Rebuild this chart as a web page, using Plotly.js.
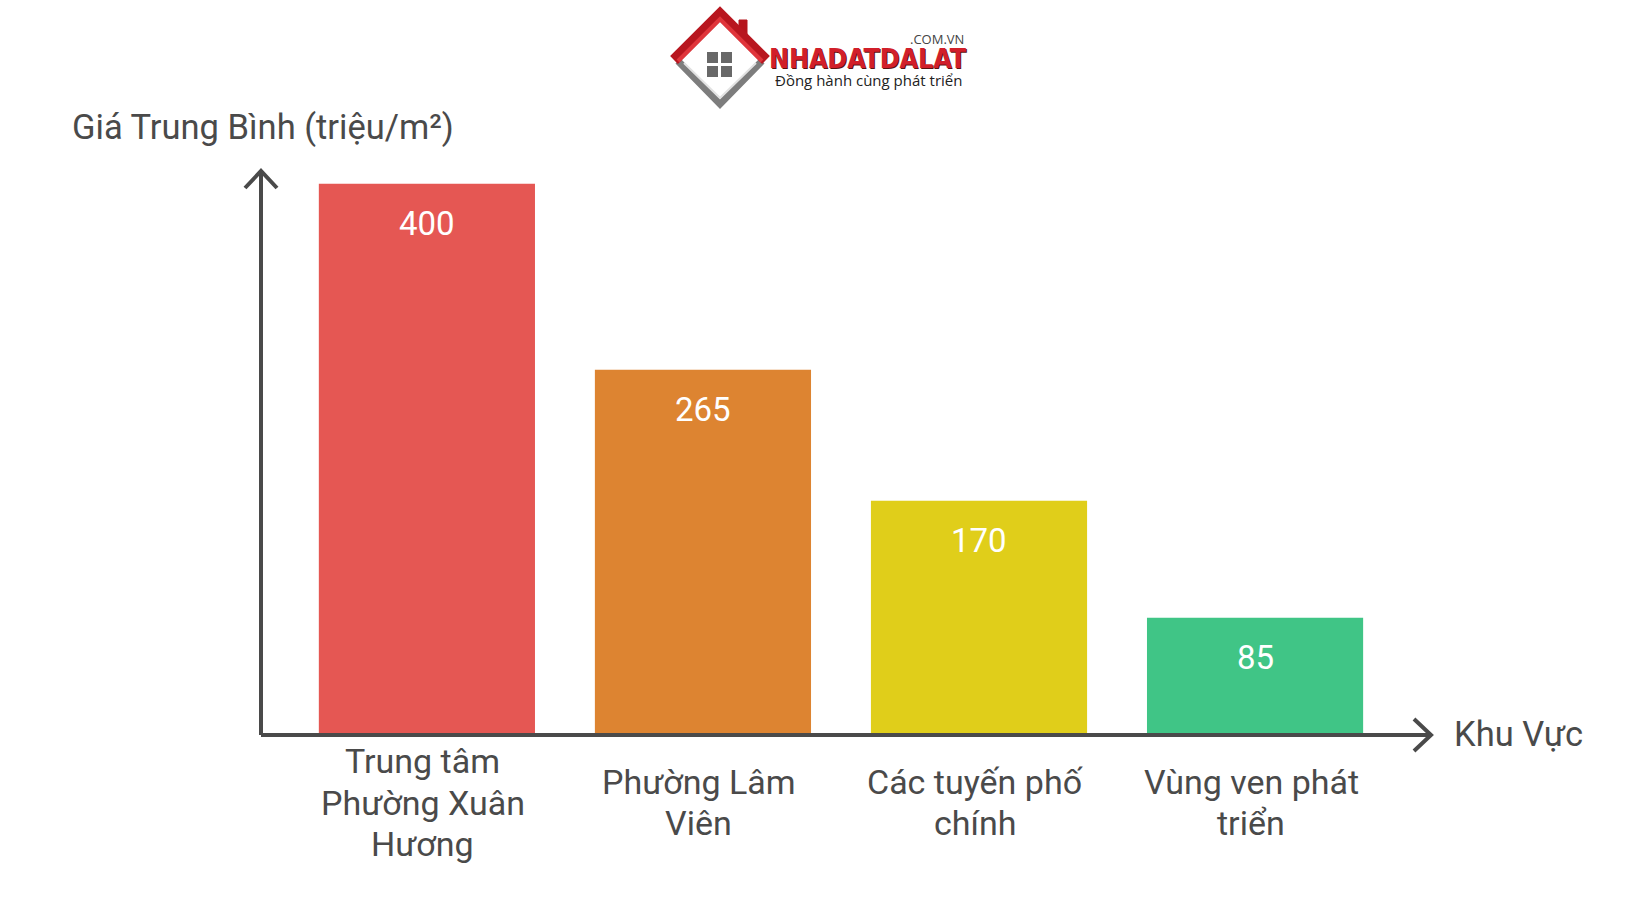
<!DOCTYPE html>
<html>
<head>
<meta charset="utf-8">
<script src="https://cdn.plot.ly/plotly-3.0.1.min.js"></script>
<style>html,body{margin:0;padding:0;background:#fff;}#chart{width:1640px;height:924px;}</style>
</head>
<body>
<div id="chart"></div>
<script>
// ---- data ----
const categories = ['Trung tâm Phường Xuân Hương', 'Phường Lâm Viên', 'Các tuyến phố chính', 'Vùng ven phát triển'];
const tickLabels = ['Trung tâm<br>Phường Xuân<br>Hương', 'Phường Lâm<br>Viên', 'Các tuyến phố<br>chính', 'Vùng ven phát<br>triển'];
const values = [400, 265, 170, 85];
const barColors = ['#E55753', '#DD8431', '#E0CE1A', '#40C586'];
const yTitle = 'Giá Trung Bình (triệu/m²)';
const xTitle = 'Khu Vực';

// ---- layout geometry (pixels) ----
const W = 1640, H = 924;
const L = 261, R = 1432, T = 170, B = 735;
const px = x => (x - L) / (R - L);
const py = y => (B - y) / (B - T);
const axisColor = '#4a4a4a';
const textColor = '#4a4a4a';
const font = 'Roboto, "Open Sans", sans-serif';
const lineGap = 41.3;

const trace = {
  type: 'bar',
  x: categories,
  y: values,
  marker: {color: barColors, line: {width: 0}},
  hoverinfo: 'x+y',
  showlegend: false
};

const annotations = [];
categories.forEach((c, i) => {
  annotations.push({
    x: c, y: values[i], xref: 'x', yref: 'y',
    text: String(values[i]), showarrow: false,
    yanchor: 'middle', xanchor: 'center', yshift: -40,
    font: {family: font, size: 33, color: '#ffffff'}
  });
  const lines = tickLabels[i].split('<br>');
  const n = lines.length;
  lines.forEach((ln, k) => {
    annotations.push({
      x: c, y: 0, xref: 'x', yref: 'paper',
      text: ln, showarrow: false,
      yanchor: 'middle', xanchor: 'center', xshift: -4,
      yshift: -67.5 - (k - (n - 1) / 2) * lineGap,
      font: {family: font, size: 34, color: textColor}
    });
  });
});
annotations.push({
  x: px(70), y: py(128), xref: 'paper', yref: 'paper', xanchor: 'left', yanchor: 'middle',
  text: yTitle, showarrow: false, font: {family: font, size: 34.5, color: textColor}
});
annotations.push({
  x: px(1452), y: py(734), xref: 'paper', yref: 'paper', xanchor: 'left', yanchor: 'middle',
  text: xTitle, showarrow: false, font: {family: font, size: 34.5, color: textColor}
});
// logo texts
annotations.push({
  x: px(767), y: py(59), xref: 'paper', yref: 'paper', xanchor: 'left', yanchor: 'middle',
  text: '<b>NHADATDALAT</b>', showarrow: false,
  font: {family: '"DejaVu Sans Condensed", "DejaVu Sans", sans-serif', size: 26.5, color: '#D11F2A',
         shadow: '1px 1px 0px #5a1010'}
});
annotations.push({
  x: px(966), y: py(39), xref: 'paper', yref: 'paper', xanchor: 'right', yanchor: 'middle',
  text: '.COM.VN', showarrow: false,
  font: {family: '"Open Sans", sans-serif', size: 13, color: '#444444'}
});
annotations.push({
  x: px(773), y: py(80), xref: 'paper', yref: 'paper', xanchor: 'left', yanchor: 'middle',
  text: 'Đồng hành cùng phát triển', showarrow: false,
  font: {family: '"Open Sans", sans-serif', size: 15, color: '#222222'}
});

const pixShape = (ax, ay, path, style) => Object.assign({
  type: 'path', xref: 'paper', yref: 'paper', xsizemode: 'pixel', ysizemode: 'pixel',
  xanchor: px(ax), yanchor: py(ay), path: path, layer: 'above'
}, style);

const shapes = [
  {type: 'line', xref: 'paper', yref: 'paper', x0: 0, y0: 0, x1: 0, y1: 1,
   line: {color: axisColor, width: 4}, layer: 'above'},
  {type: 'line', xref: 'paper', yref: 'paper', x0: 0, y0: 0, x1: 1, y1: 0,
   line: {color: axisColor, width: 4}, layer: 'above'},
  pixShape(261, 171, 'M -16 -17 L 0 0 L 16 -17', {line: {color: axisColor, width: 4}}),
  pixShape(1431, 735, 'M -17 16 L 0 0 L -17 -16', {line: {color: axisColor, width: 4}}),
  // logo: lower V (gray)
  pixShape(720, 60, 'M -42 -1 L 0 -44 L 42 -1', {line: {color: '#7d7d7d', width: 7}}),
  pixShape(720, 60, 'M -36 -3 L 0 -38 L 36 -3', {line: {color: '#e2e2e2', width: 2}}),
  // chimney
  pixShape(720, 60, 'M 19 28 L 19 40 L 27 40 L 27 20 Z', {fillcolor: '#B5141C', line: {color: '#B5141C', width: 1}}),
  // roof (red)
  pixShape(720, 60, 'M -46 0 L 0 46 L 46 0', {line: {color: '#B8161F', width: 11}}),
  pixShape(720, 60, 'M -42 -1 L 0 41 L 42 -1', {line: {color: '#E0353B', width: 4}}),
  // window
  pixShape(720, 60, 'M -13 8 L -2 8 L -2 -3 L -13 -3 Z', {fillcolor: '#686868', line: {width: 0}}),
  pixShape(720, 60, 'M 1 8 L 12 8 L 12 -3 L 1 -3 Z', {fillcolor: '#686868', line: {width: 0}}),
  pixShape(720, 60, 'M -13 -6 L -2 -6 L -2 -17 L -13 -17 Z', {fillcolor: '#686868', line: {width: 0}}),
  pixShape(720, 60, 'M 1 -6 L 12 -6 L 12 -17 L 1 -17 Z', {fillcolor: '#686868', line: {width: 0}})
];

const layout = {
  width: W, height: H,
  margin: {l: L, r: W - R, t: T, b: H - B, pad: 0},
  paper_bgcolor: '#ffffff', plot_bgcolor: '#ffffff',
  bargap: 0.217,
  xaxis: {type: 'category', range: [-0.601, 3.641], showticklabels: false, showgrid: false,
          zeroline: false, showline: false, ticks: '', fixedrange: true},
  yaxis: {range: [0, 410], showticklabels: false, showgrid: false, zeroline: false,
          showline: false, ticks: '', fixedrange: true},
  annotations: annotations,
  shapes: shapes,
  font: {family: font, color: textColor}
};

Plotly.newPlot('chart', [trace], layout, {displayModeBar: false, staticPlot: true});
</script>
</body>
</html>
